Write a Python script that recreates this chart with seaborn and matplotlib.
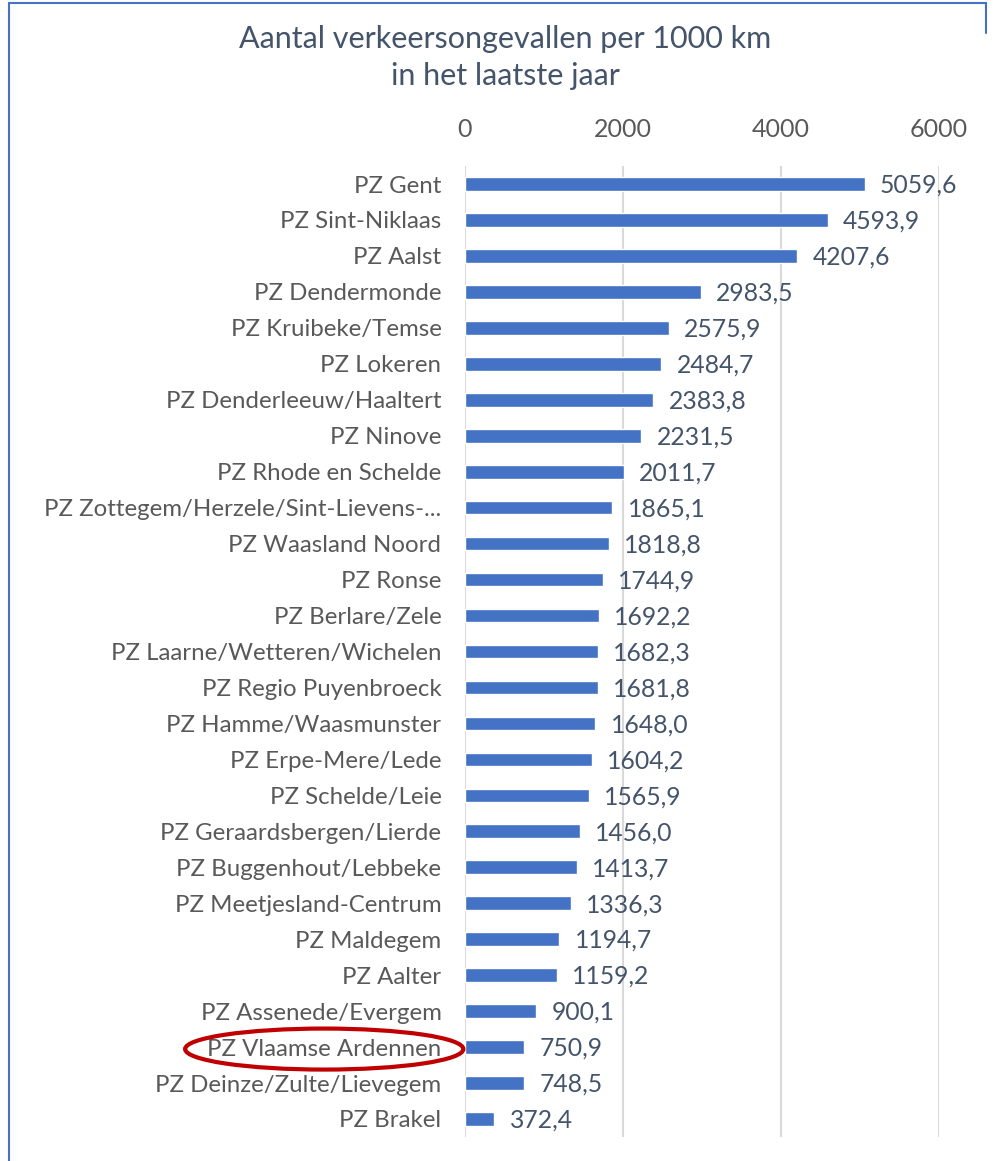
import matplotlib
matplotlib.use("Agg")
import matplotlib.pyplot as plt
import seaborn as sns
import pandas as pd
from matplotlib.patches import Ellipse
from matplotlib.lines import Line2D

zones = [
    "PZ Gent", "PZ Sint-Niklaas", "PZ Aalst", "PZ Dendermonde", "PZ Kruibeke/Temse",
    "PZ Lokeren", "PZ Denderleeuw/Haaltert", "PZ Ninove", "PZ Rhode en Schelde",
    "PZ Zottegem/Herzele/Sint-Lievens-...", "PZ Waasland Noord", "PZ Ronse",
    "PZ Berlare/Zele", "PZ Laarne/Wetteren/Wichelen", "PZ Regio Puyenbroeck",
    "PZ Hamme/Waasmunster", "PZ Erpe-Mere/Lede", "PZ Schelde/Leie",
    "PZ Geraardsbergen/Lierde", "PZ Buggenhout/Lebbeke", "PZ Meetjesland-Centrum",
    "PZ Maldegem", "PZ Aalter", "PZ Assenede/Evergem", "PZ Vlaamse Ardennen",
    "PZ Deinze/Zulte/Lievegem", "PZ Brakel",
]
ongevallen = [
    5059.6, 4593.9, 4207.6, 2983.5, 2575.9, 2484.7, 2383.8, 2231.5, 2011.7,
    1865.1, 1818.8, 1744.9, 1692.2, 1682.3, 1681.8, 1648.0, 1604.2, 1565.9,
    1456.0, 1413.7, 1336.3, 1194.7, 1159.2, 900.1, 750.9, 748.5, 372.4,
]
x_ticks = [0, 2000, 4000, 6000]
highlight = "PZ Vlaamse Ardennen"

df = pd.DataFrame({"zone": zones, "waarde": ongevallen})

sns.set_style("white")
plt.rcParams["font.family"] = ["Lato", "DejaVu Sans"]

fig = plt.figure(figsize=(9.94, 11.61), dpi=100)
ax = fig.add_axes([0.4678, 0.0207, 0.4769, 0.8363])

sns.barplot(data=df, x="waarde", y="zone", order=zones, color="#4472C4",
            saturation=1, width=0.38, ax=ax)

ax.set_xlim(0, 6000)
ax.set_ylim(len(zones) - 0.5, -0.5)
ax.set_xticks(x_ticks)
ax.xaxis.tick_top()
ax.grid(axis="x", color="#D9D9D9", linewidth=1.5)
ax.set_axisbelow(True)
for s in ax.spines.values():
    s.set_visible(False)
ax.tick_params(axis="y", length=0, labelsize=17.3, labelcolor="#595959", pad=17)
ax.tick_params(axis="x", length=0, labelsize=18, labelcolor="#595959", pad=18)
ax.set_xlabel("")
ax.set_ylabel("")

# waardelabels met decimale komma
for i, v in enumerate(ongevallen):
    ax.annotate(f"{v:.1f}".replace(".", ","), (v, i), xytext=(11, -1),
                textcoords="offset points", va="center", ha="left",
                fontsize=17.8, color="#44546A")

fig.text(0.508, 0.9505, "Aantal verkeersongevallen per 1000 km\nin het laatste jaar",
         ha="center", va="center", fontsize=22, color="#44546A", linespacing=1.42)

# rode ellips rond de gemarkeerde zone
fig.canvas.draw()
renderer = fig.canvas.get_renderer()
for lbl in ax.get_yticklabels():
    if lbl.get_text() == highlight:
        bb = lbl.get_window_extent(renderer)
        cx, cy = (bb.x0 + bb.x1) / 2, (bb.y0 + bb.y1) / 2
        w_fig, h_fig = fig.bbox.width, fig.bbox.height
        ell = Ellipse((cx / w_fig, cy / h_fig), (bb.width + 44) / w_fig,
                      (bb.height + 20) / h_fig, transform=fig.transFigure,
                      fill=False, edgecolor="#C00000", linewidth=3)
        fig.add_artist(ell)

# kader van de grafiek
kader = dict(color="#4472C4", linewidth=1.5, transform=fig.transFigure)
fig.add_artist(Line2D([0.009, 0.009], [0, 0.997], **kader))
fig.add_artist(Line2D([0.009, 0.992], [0.997, 0.997], **kader))
fig.add_artist(Line2D([0.992, 0.992], [0.997, 0.972], **kader))

fig.savefig("out.png", dpi=100)
